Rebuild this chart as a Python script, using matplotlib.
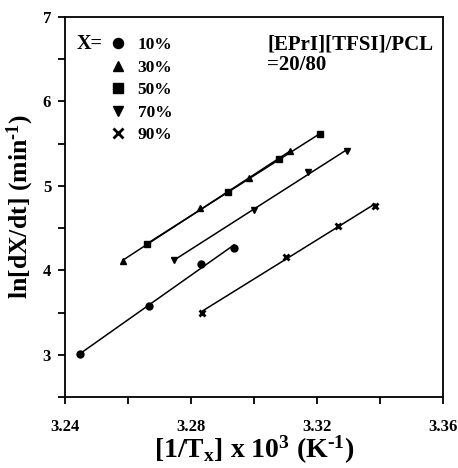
import numpy as np
import matplotlib
matplotlib.use("Agg")
import matplotlib.pyplot as plt

plt.rcParams['font.family'] = 'Liberation Serif'
plt.rcParams['font.weight'] = 'bold'
plt.rcParams['mathtext.fontset'] = 'custom'
plt.rcParams['mathtext.rm'] = 'Liberation Serif:bold'
plt.rcParams['mathtext.it'] = 'Liberation Serif:bold'
plt.rcParams['mathtext.bf'] = 'Liberation Serif:bold'
plt.rcParams['mathtext.default'] = 'rm'

# data: 1/Tx (x1000) vs ln(dX/dt)
labels = ['10%', '30%', '50%', '70%', '90%']
markers = ['o', '^', 's', 'v', 'x']
x10 = [3.2448, 3.2667, 3.2831, 3.2937]
y10 = [3.01, 3.58, 4.07, 4.27]
x30 = [3.2584, 3.2829, 3.2985, 3.3116]
y30 = [4.11, 4.74, 5.09, 5.41]
x50 = [3.2660, 3.2918, 3.3079, 3.3210]
y50 = [4.31, 4.93, 5.32, 5.61]
x70 = [3.2747, 3.3000, 3.3172, 3.3294]
y70 = [4.12, 4.72, 5.16, 5.41]
x90 = [3.2836, 3.3102, 3.3266, 3.3384]
y90 = [3.50, 4.16, 4.53, 4.76]

xs = [x10, x30, x50, x70, x90]
ys = [y10, y30, y50, y70, y90]

fig = plt.figure(figsize=(4.58, 4.68), dpi=100)
ax = fig.add_axes([0.142, 0.1517, 0.825, 0.812])

handles = []
for x, y, m, lab in zip(xs, ys, markers, labels):
    x = np.array(x)
    y = np.array(y)
    k, b = np.polyfit(x, y, 1)
    xf = np.array([x.min(), x.max()])
    ax.plot(xf, k * xf + b, color='black', lw=1.1)
    if m == 'x':
        h, = ax.plot(x, y, ls='none', marker=m, color='black', ms=5, mew=2)
    else:
        h, = ax.plot(x, y, ls='none', marker=m, color='black', ms=5)
    handles.append(h)

ax.set_xlim(3.24, 3.36)
ax.set_ylim(2.5, 7)
ax.set_xticks([3.24, 3.28, 3.32, 3.36])
ax.set_xticks([3.26, 3.30, 3.34], minor=True)
ax.set_yticks([3, 4, 5, 6, 7])
ax.set_yticks([2.5, 3.5, 4.5, 5.5, 6.5], minor=True)
ax.tick_params(which='both', direction='out', length=5, width=1.3, labelsize=12)
ax.tick_params(axis='x', which='major', pad=11)
ax.tick_params(axis='y', which='major', pad=5)
for s in ax.spines.values():
    s.set_linewidth(1.3)

ax.set_xlabel(r'[1/T$_{x}$] x 10$^{3}$ (K$^{\text{-}1}$)', fontsize=20, fontweight='bold', labelpad=-1)
ax.set_ylabel(r'ln[dX/dt] (min$^{\text{-}1}$)', fontsize=18.5, fontweight='bold', labelpad=5)

leg = ax.legend(handles, labels, loc='upper left', bbox_to_anchor=(0.1, 0.965),
                frameon=False, fontsize=12.5, markerscale=1.45, handlelength=1.0,
                handletextpad=0.6, labelspacing=0.36, borderaxespad=0)
ax.text(0.03, 0.93, 'X=', transform=ax.transAxes, fontsize=14.5, fontweight='bold', va='center')
ax.text(0.535, 0.955, '[EPrI][TFSI]/PCL\n=20/80', transform=ax.transAxes, fontsize=15,
        fontweight='bold', va='top', linespacing=1.05)

fig.savefig('out.png', dpi=100)
